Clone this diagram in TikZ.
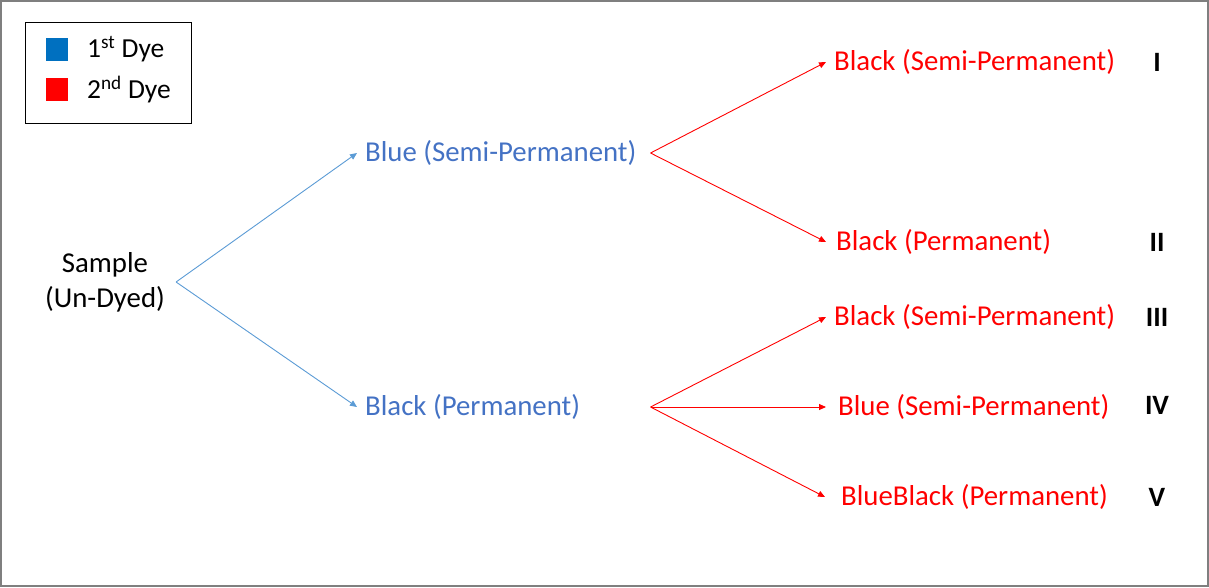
\documentclass[tikz,border=0pt]{standalone}
\usepackage{fontspec}
\setmainfont{Carlito}
\usetikzlibrary{arrows.meta}
\definecolor{txtblue}{HTML}{4472C4}
\definecolor{lineblue}{HTML}{5B9BD5}
\definecolor{sqblue}{HTML}{0070C0}
\definecolor{dyered}{HTML}{FF0000}
\definecolor{framegray}{HTML}{7F7F7F}
\tikzset{
  lbl/.style={font=\fontsize{28.8}{32}\selectfont, inner xsep=0pt, inner ysep=2pt, anchor=west},
  leglbl/.style={font=\fontsize{27.5}{32}\selectfont, inner xsep=0pt, inner ysep=2pt, anchor=west},
  firstlbl/.style={lbl, text=txtblue},
  secondlbl/.style={lbl, text=dyered},
  numlbl/.style={font=\fontsize{28}{32}\selectfont\bfseries, text=black, inner sep=0pt},
  bluearrow/.style={draw=lineblue, line width=0.9pt, -{Triangle[length=7pt,width=6pt]}},
  redarrow/.style={draw=dyered, line width=0.9pt, -{Triangle[length=7pt,width=6pt]}},
  legsq/.style={minimum width=22pt, minimum height=23pt, inner sep=0pt, draw=none},
}
\begin{document}
\begin{tikzpicture}[x=1pt,y=-1pt]
\useasboundingbox (0,0) rectangle (1209,587);
\draw[framegray, line width=1.5pt] (1,1) rectangle (1208,586);
% legend
\node[draw=black, line width=1pt, minimum width=166pt, minimum height=101pt, inner sep=0pt] (legend) at (108,72.5) {};
\node[legsq, fill=sqblue] (sq1) at (57,49) {};
\node[legsq, fill=dyered] (sq2) at (57,89.5) {};
\node[leglbl] (leg1) at (87,49.5) {1\textsuperscript{st} Dye};
\node[leglbl] (leg2) at (87,90) {2\textsuperscript{nd} Dye};
% sample
\node[font=\fontsize{28.8}{35}\selectfont, align=center, inner sep=0pt] (s) at (105,282) {Sample\\(Un-Dyed)};
% first dye
\node[firstlbl] (b1) at (365,153) {Blue (Semi-Permanent)};
\node[firstlbl] (b2) at (365,407) {Black (Permanent)};
% second dye
\node[secondlbl] (l1) at (834,62) {Black (Semi-Permanent)};
\node[secondlbl] (l2) at (836,242) {Black (Permanent)};
\node[secondlbl] (l3) at (834,317) {Black (Semi-Permanent)};
\node[secondlbl] (l4) at (838,407) {Blue (Semi-Permanent)};
\node[secondlbl] (l5) at (841,497) {BlueBlack (Permanent)};
% numerals
\node[numlbl] (n1) at (1157,62) {I};
\node[numlbl] (n2) at (1157,242) {II};
\node[numlbl] (n3) at (1157,317) {III};
\node[numlbl] (n4) at (1157,405) {IV};
\node[numlbl] (n5) at (1157,497) {V};
% connectors
\coordinate (sj) at ([xshift=11pt]s.east);
\draw[bluearrow] (sj) -- ([xshift=-8pt]b1.west);
\draw[bluearrow] (sj) -- ([xshift=-8pt]b2.west);
\coordinate (j1) at ([xshift=14pt]b1.east);
\coordinate (j2) at (j1 |- b2.east);
\draw[redarrow] (j1) -- ([xshift=-8pt]l1.west);
\draw[redarrow] (j1) -- ([xshift=-10pt]l2.west);
\draw[redarrow] (j2) -- ([xshift=-8pt]l3.west);
\draw[redarrow] (j2) -- ([xshift=-12pt]l4.west);
\draw[redarrow] (j2) -- ([xshift=-16pt]l5.west);
\end{tikzpicture}
\end{document}
